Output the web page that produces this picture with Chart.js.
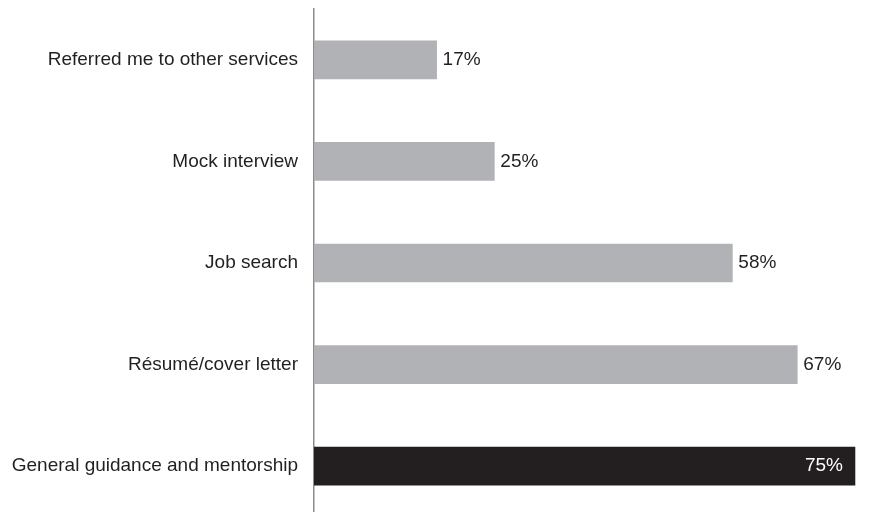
<!DOCTYPE html>
<html>
<head>
<meta charset="utf-8">
<script src="https://cdn.jsdelivr.net/npm/chart.js@4"></script>
<style>
  html, body { margin: 0; padding: 0; background: #fff; overflow: hidden; }
  #wrap { position: relative; width: 890px; height: 517px; }
</style>
</head>
<body>
<div id="wrap"><canvas id="chart"></canvas></div>
<script>
const CATEGORIES = [
  "Referred me to other services",
  "Mock interview",
  "Job search",
  "Résumé/cover letter",
  "General guidance and mentorship",
];
const VALUES = [17, 25, 58, 67, 75];
const BAR_COLORS = ["#b1b2b5", "#b1b2b5", "#b1b2b5", "#b1b2b5", "#231f20"];
const LABEL_COLORS = ["#231f20", "#231f20", "#231f20", "#231f20", "#ffffff"];

const FONT_FAMILY = "'Liberation Sans', Arial, sans-serif";
const FONT_SIZE = 19;

// value labels: outside the grey bars, inside the dark one
const valueLabels = {
  id: "valueLabels",
  afterDatasetsDraw(chart) {
    const { ctx } = chart;
    const meta = chart.getDatasetMeta(0);
    ctx.save();
    ctx.font = `${FONT_SIZE}px ${FONT_FAMILY}`;
    ctx.textBaseline = "middle";
    meta.data.forEach((bar, i) => {
      const text = `${VALUES[i]}%`;
      const inside = LABEL_COLORS[i] === "#ffffff";
      ctx.fillStyle = LABEL_COLORS[i];
      if (inside) {
        ctx.textAlign = "right";
        ctx.fillText(text, bar.x - 12, bar.y);
      } else {
        ctx.textAlign = "left";
        ctx.fillText(text, bar.x + 6, bar.y);
      }
    });
    ctx.restore();
  },
};

new Chart(document.getElementById("chart"), {
  type: "bar",
  data: {
    labels: CATEGORIES,
    datasets: [{
      data: VALUES,
      backgroundColor: BAR_COLORS,
      borderWidth: 0,
      barThickness: 38,
    }],
  },
  options: {
    indexAxis: "y",
    responsive: true,
    maintainAspectRatio: false,
    animation: false,
    layout: { padding: { top: 9, right: 13.4, bottom: 0, left: 0 } },
    plugins: {
      legend: { display: false },
      tooltip: { enabled: false },
    },
    scales: {
      x: {
        display: false,
        min: 0,
        max: 78,
      },
      y: {
        grid: { display: false },
        border: { display: true, color: "#8c8c8c", width: 1.5 },
        ticks: {
          color: "#231f20",
          font: { family: FONT_FAMILY, size: FONT_SIZE },
          padding: 8,
        },
        afterFit(scale) {
          scale.width = 314;
          scale.paddingTop = 0;
          scale.paddingBottom = 0;
        },
      },
    },
  },
  plugins: [valueLabels],
});
</script>
</body>
</html>
